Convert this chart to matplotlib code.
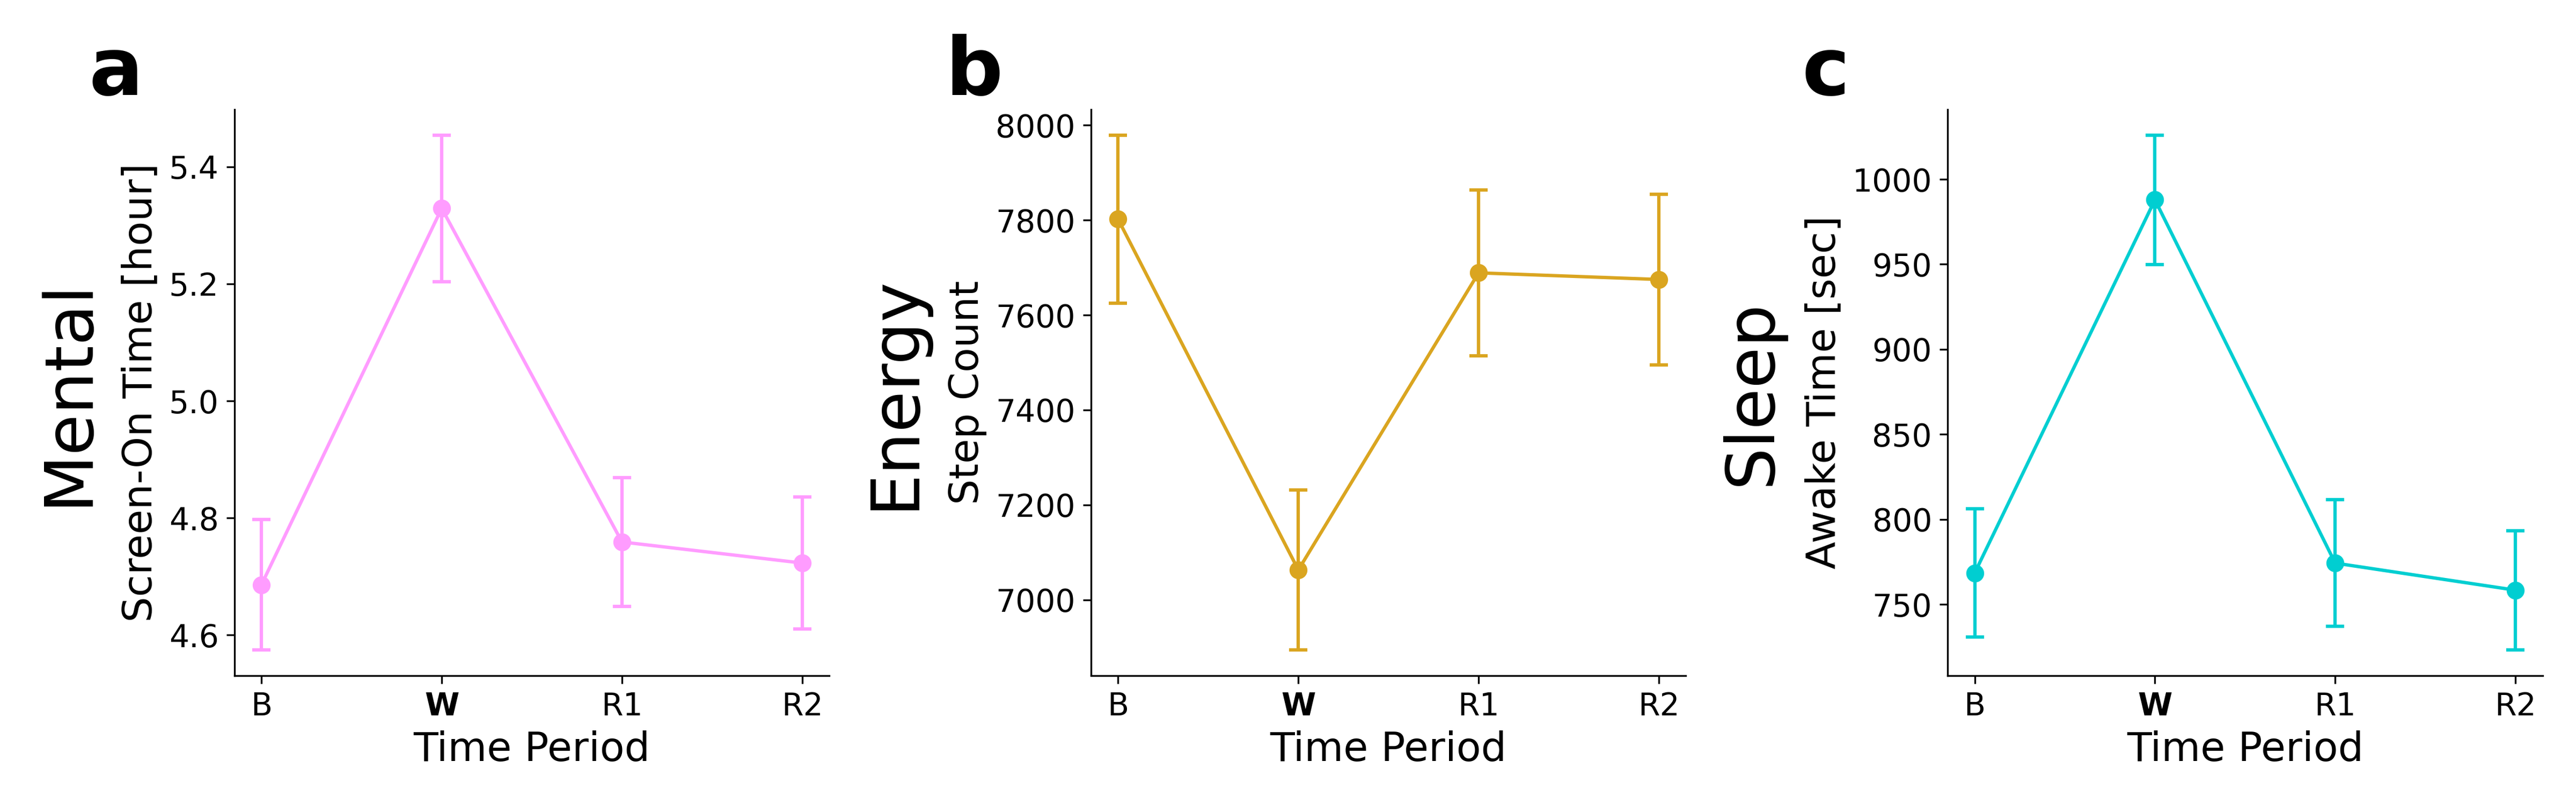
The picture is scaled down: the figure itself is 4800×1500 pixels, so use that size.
import numpy as np
import matplotlib
matplotlib.use("Agg")
import matplotlib.pyplot as plt

periods = ["B", "W", "R1", "R2"]

mental_mean = [4.686, 5.329, 4.759, 4.723]
mental_err = [0.111, 0.125, 0.110, 0.113]

energy_mean = [7802, 7063, 7689, 7675]
energy_err = [177, 168, 175, 180]

sleep_mean = [768.5, 987.9, 774.3, 758.4]
sleep_err = [37.7, 38.0, 37.2, 35.0]

panels = [
    ("a", "Mental", "Screen-On Time [hour]", mental_mean, mental_err, "#ff9cff"),
    ("b", "Energy", "Step Count", energy_mean, energy_err, "goldenrod"),
    ("c", "Sleep", "Awake Time [sec]", sleep_mean, sleep_err, "darkturquoise"),
]

fig, axes = plt.subplots(1, 3, figsize=(16, 5), dpi=300)
fig.subplots_adjust(left=0.091, right=0.987, bottom=0.161, top=0.864, wspace=0.44)

x = np.arange(len(periods))

for ax, (letter, group, ylabel, mean, err, color) in zip(axes, panels):
    ax.errorbar(x, mean, yerr=err, fmt="-o", color=color, ecolor=color,
                markersize=7, linewidth=1.5, elinewidth=1.5, capsize=4, capthick=1.5)
    ax.set_xticks(x)
    ax.set_xticklabels(periods)
    ax.get_xticklabels()[1].set_fontweight("bold")
    ax.tick_params(labelsize=14)
    ax.set_xlabel("Time Period", fontsize=18)
    ax.set_ylabel(ylabel, fontsize=18)
    ax.spines["top"].set_visible(False)
    ax.spines["right"].set_visible(False)

    # big group name to the left of the y label
    ax.annotate(group, xy=(0, 0.5), xycoords=ax.yaxis.label,
                xytext=(-9, 0), textcoords="offset points",
                rotation=90, ha="right", va="center", fontsize=30)

    ax.text(-0.245, 1.026, letter, transform=ax.transAxes,
            fontsize=36, fontweight="bold", va="baseline", ha="left")

fig.savefig("out.png", dpi=300)
